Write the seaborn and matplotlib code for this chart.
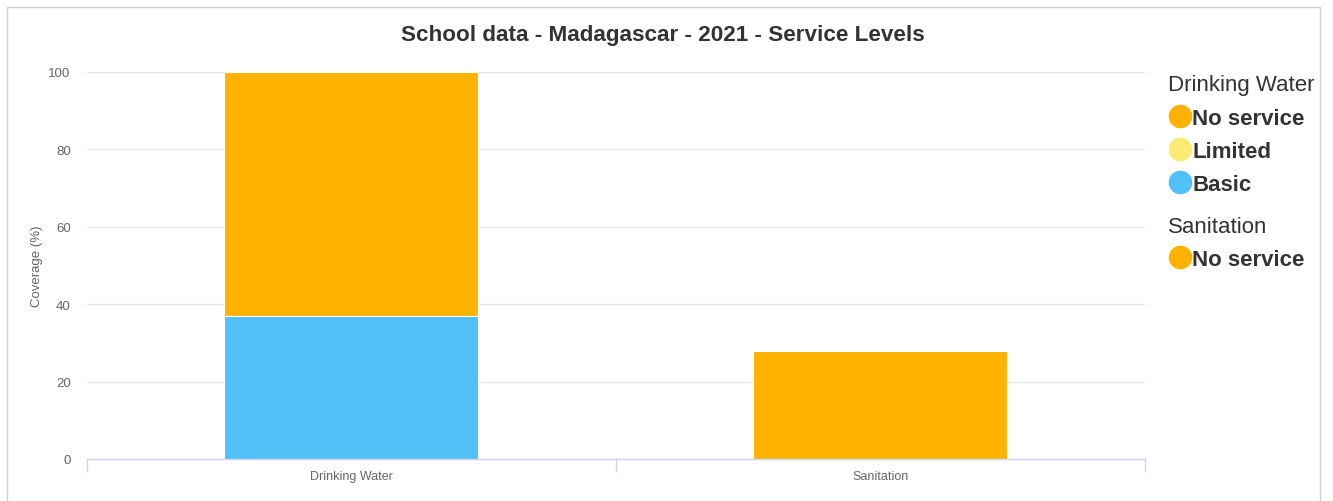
import matplotlib
matplotlib.use("Agg")
import matplotlib.pyplot as plt
from matplotlib.lines import Line2D
from matplotlib.patches import Rectangle
import seaborn as sns
import pandas as pd

# Service-level coverage (%) per category
categories = ["Drinking Water", "Sanitation"]
water_levels = ["Basic", "Limited", "No service"]
water_values = [37, 0, 63]
sanitation_levels = ["No service"]
sanitation_values = [28]

level_colors = {"No service": "#FFB300", "Limited": "#FCEB73", "Basic": "#4FC1F7"}

sns.set_theme(style="white")
plt.rcParams["font.family"] = ["Liberation Sans", "DejaVu Sans"]

fig = plt.figure(figsize=(13.33, 5.02), dpi=100)
ax = fig.add_axes([0.065, 0.0837, 0.794, 0.771])

# Build stacked segments: bottom-up cumulative tops for each category
rows = []
cum = 0
for i, (lvl, v) in enumerate(zip(water_levels, water_values)):
    cum += v
    rows.append({"category": "Drinking Water", "level": lvl, "top": cum, "order": i})
cum = 0
for i, (lvl, v) in enumerate(zip(sanitation_levels, sanitation_values)):
    cum += v
    rows.append({"category": "Sanitation", "level": lvl, "top": cum, "order": i})
df = pd.DataFrame(rows)

# Draw the tallest (outermost) segments first so lower ones layer on top
for _, r in df.sort_values(["top", "order"], ascending=False).iterrows():
    sub = pd.DataFrame({"category": [r["category"]], "top": [r["top"]]})
    sns.barplot(data=sub, x="category", y="top", order=categories,
                color=level_colors[r["level"]], width=0.48, ax=ax,
                edgecolor="white", linewidth=0.8, saturation=1)

ax.set_ylim(0, 100)
ax.set_xlim(-0.5, 1.5)
ax.set_yticks([0, 20, 40, 60, 80, 100])
ax.yaxis.grid(True, color="#e6e6e6", linewidth=1)
ax.set_axisbelow(True)
for s in ["top", "right", "left"]:
    ax.spines[s].set_visible(False)
ax.spines["bottom"].set_color("#ccd6eb")
ax.spines["bottom"].set_linewidth(1)

ax.tick_params(axis="y", length=0, labelsize=9.5, labelcolor="#666666", pad=11.5)
ax.tick_params(axis="x", which="major", length=0, labelsize=9, labelcolor="#666666", pad=8)
ax.set_xticks([-0.5, 0.5, 1.5], minor=True)
ax.tick_params(axis="x", which="minor", bottom=True, length=9, color="#ccd6eb",
               width=1, direction="out")
ax.set_xlabel("")
ax.set_ylabel("Coverage (%)", fontsize=9.5, color="#666666", labelpad=4)

fig.suptitle("School data - Madagascar - 2021 - Service Levels", x=0.497, y=0.95,
             fontsize=16.2, fontweight="bold", color="#333333")

# Grouped legends
def mk(color):
    return Line2D([], [], marker="o", linestyle="none", markersize=16,
                  markerfacecolor=color, markeredgecolor=color)

legend_kw = dict(loc="upper left", frameon=False, prop={"size": 16, "weight": "bold"},
                 title_fontsize=16, handletextpad=0.0, labelspacing=0.55,
                 borderaxespad=0, borderpad=0, handlelength=1.1, alignment="left")

leg1 = fig.legend(handles=[mk(level_colors[l]) for l in ["No service", "Limited", "Basic"]],
                  labels=["No service", "Limited", "Basic"], title="Drinking Water",
                  bbox_to_anchor=(0.876, 0.85), **legend_kw)
leg2 = fig.legend(handles=[mk(level_colors["No service"])], labels=["No service"],
                  title="Sanitation", bbox_to_anchor=(0.876, 0.568), **legend_kw)
for leg in (leg1, leg2):
    for t in leg.get_texts():
        t.set_color("#333333")
    leg.get_title().set_color("#333333")

# Outer frame
fig.patches.append(Rectangle((0.005, -0.02), 0.985, 1.004, transform=fig.transFigure,
                             fill=False, edgecolor="#d0d0d0", linewidth=1))

fig.savefig("out.png", dpi=100)
